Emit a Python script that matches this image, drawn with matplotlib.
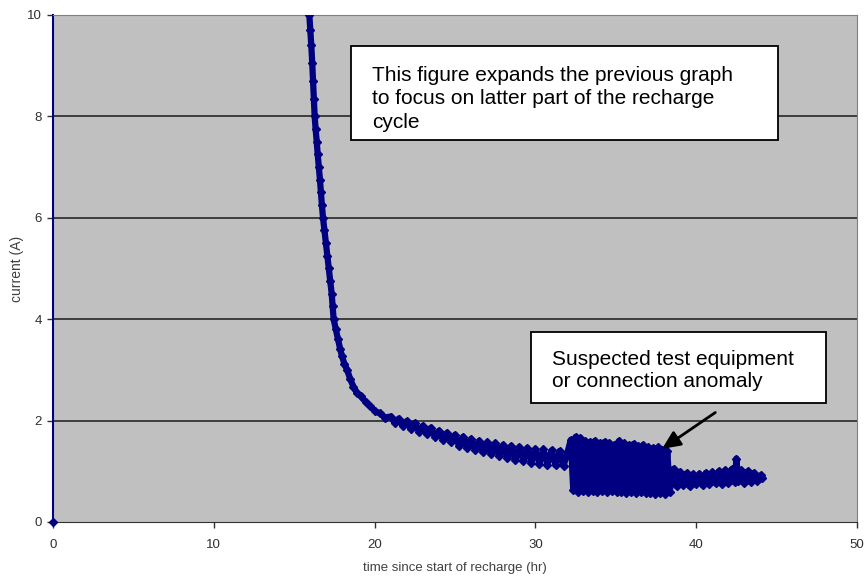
import matplotlib.pyplot as plt

plt.rcParams['font.family'] = ['Liberation Sans', 'DejaVu Sans']

# recharge current log, late part of the cycle
t_start = [0.0]
i_start = [0.0]

t_decay = [15.94, 16.0, 16.06, 16.12, 16.17, 16.22, 16.27, 16.33, 16.40, 16.46,
           16.53, 16.60, 16.66, 16.72, 16.79, 16.88, 16.97, 17.06, 17.15, 17.24,
           17.33, 17.39, 17.45, 17.59, 17.73, 17.85, 17.97, 18.12, 18.29, 18.48,
           18.68, 18.9, 19.15, 19.45, 19.74, 20.05, 20.35, 20.65]
i_decay = [10.0, 9.7, 9.4, 9.05, 8.7, 8.35, 8.0, 7.75, 7.5, 7.25,
           7.0, 6.75, 6.5, 6.25, 6.0, 5.75, 5.5, 5.25, 5.0, 4.75,
           4.5, 4.25, 4.0, 3.8, 3.6, 3.42, 3.27, 3.12, 3.0, 2.82,
           2.67, 2.55, 2.48, 2.36, 2.28, 2.18, 2.14, 2.06]

t_tail = [21.0, 21.25, 21.5, 21.75, 22.0, 22.25, 22.5, 22.75, 23.0, 23.25,
          23.5, 23.75, 24.0, 24.25, 24.5, 24.75, 25.0, 25.25, 25.5, 25.75,
          26.0, 26.25, 26.5, 26.75, 27.0, 27.25, 27.5, 27.75, 28.0, 28.25,
          28.5, 28.75, 29.0, 29.25, 29.5, 29.75, 30.0, 30.25, 30.5, 30.75,
          31.0, 31.25, 31.5, 31.75, 32.0]
i_tail = [2.08, 1.96, 2.04, 1.9, 1.99, 1.84, 1.95, 1.78, 1.9, 1.73,
          1.86, 1.68, 1.8, 1.62, 1.76, 1.58, 1.72, 1.5, 1.68, 1.46,
          1.64, 1.42, 1.6, 1.38, 1.57, 1.34, 1.55, 1.3, 1.52, 1.26,
          1.5, 1.22, 1.48, 1.2, 1.46, 1.17, 1.44, 1.15, 1.43, 1.13,
          1.41, 1.12, 1.4, 1.11, 1.38]

# noisy stretch where the reading jumps between two levels
t_anom = [32.2, 32.35, 32.5, 32.65, 32.8, 32.95, 33.1, 33.25, 33.4, 33.55,
          33.7, 33.85, 34.0, 34.15, 34.3, 34.45, 34.6, 34.75, 34.9, 35.05,
          35.2, 35.35, 35.5, 35.65, 35.8, 35.95, 36.1, 36.25, 36.4, 36.55,
          36.7, 36.85, 37.0, 37.15, 37.3, 37.45, 37.6, 37.75, 37.9, 38.05,
          38.2, 38.35]
i_anom = [1.62, 0.64, 1.68, 0.6, 1.66, 0.62, 1.6, 0.6, 1.58, 0.62,
          1.6, 0.6, 1.56, 0.61, 1.58, 0.6, 1.56, 0.62, 1.52, 0.6,
          1.6, 0.6, 1.55, 0.58, 1.52, 0.6, 1.54, 0.58, 1.5, 0.6,
          1.52, 0.58, 1.48, 0.58, 1.45, 0.56, 1.47, 0.58, 1.42, 0.56,
          1.4, 0.6]

t_after = [38.6, 38.8, 39.0, 39.2, 39.4, 39.6, 39.8, 40.0, 40.2, 40.4,
           40.6, 40.8, 41.0, 41.2, 41.4, 41.6, 41.8, 42.0, 42.2, 42.4,
           42.5, 42.6, 42.8, 43.0, 43.2, 43.4, 43.6, 43.8, 44.0, 44.1]
i_after = [1.05, 0.7, 0.99, 0.72, 0.96, 0.7, 0.94, 0.74, 0.95, 0.72,
           0.97, 0.74, 0.98, 0.76, 1.0, 0.74, 1.02, 0.76, 1.04, 0.78,
           1.25, 0.8, 1.02, 0.76, 1.0, 0.78, 0.97, 0.8, 0.92, 0.86]

x_ticks = [0, 10, 20, 30, 40, 50]
y_ticks = [0, 2, 4, 6, 8, 10]

navy = '#000080'

fig = plt.figure(figsize=(8.65, 5.76), dpi=100)
ax = fig.add_axes([0.0613, 0.0938, 0.9295, 0.8802])
ax.set_facecolor('#c0c0c0')

t_all = t_decay + t_tail + t_anom + t_after
i_all = i_decay + i_tail + i_anom + i_after
ax.plot(t_all, i_all, '-', color=navy, lw=4.5, marker='D', ms=4.5,
        mec=navy, mfc=navy, solid_joinstyle='round', solid_capstyle='round',
        zorder=3)
ax.plot(t_start, i_start, 'D', color=navy, ms=4, clip_on=False, zorder=4)

ax.set_xlim(0, 50)
ax.set_ylim(0, 10)
ax.set_xticks(x_ticks)
ax.set_yticks(y_ticks)

for y in y_ticks[1:-1]:
    ax.axhline(y, color='#1a1a1a', lw=1.1, zorder=1)

ax.spines['top'].set_color('#808080')
ax.spines['right'].set_color('#808080')
ax.spines['bottom'].set_color('#303030')
ax.spines['left'].set_color(navy)
ax.spines['left'].set_linewidth(1.5)
ax.tick_params(axis='both', direction='out', length=4, width=1,
               color='#303030', labelsize=9.5, labelcolor='#303030')
ax.tick_params(axis='x', pad=8)
ax.tick_params(axis='y', pad=4)

ax.set_xlabel('time since start of recharge (hr)', fontsize=9.5,
              color='#404040', labelpad=8)
ax.set_ylabel('current (A)', fontsize=10, color='#404040', labelpad=2)

# note boxes
ax.add_patch(plt.Rectangle((18.5, 7.53), 26.6, 1.86, transform=ax.transData,
                           facecolor='white', edgecolor='black', lw=1.3, zorder=5))
ax.text(19.85, 9.0, 'This figure expands the previous graph\n'
        'to focus on latter part of the recharge\ncycle',
        fontsize=15, va='top', ha='left', linespacing=1.3, zorder=6)

ax.add_patch(plt.Rectangle((29.7, 2.34), 18.4, 1.4, transform=ax.transData,
                           facecolor='white', edgecolor='black', lw=1.3, zorder=5))
ax.text(31.05, 3.4, 'Suspected test equipment\nor connection anomaly',
        fontsize=15, va='top', ha='left', linespacing=1.25, zorder=6)

ax.annotate('', xy=(37.73, 1.41), xytext=(41.33, 2.19),
            arrowprops=dict(arrowstyle='-|>,head_length=1.1,head_width=0.5',
                            color='black', lw=2),
            zorder=7)

fig.savefig('out.png', dpi=100)
